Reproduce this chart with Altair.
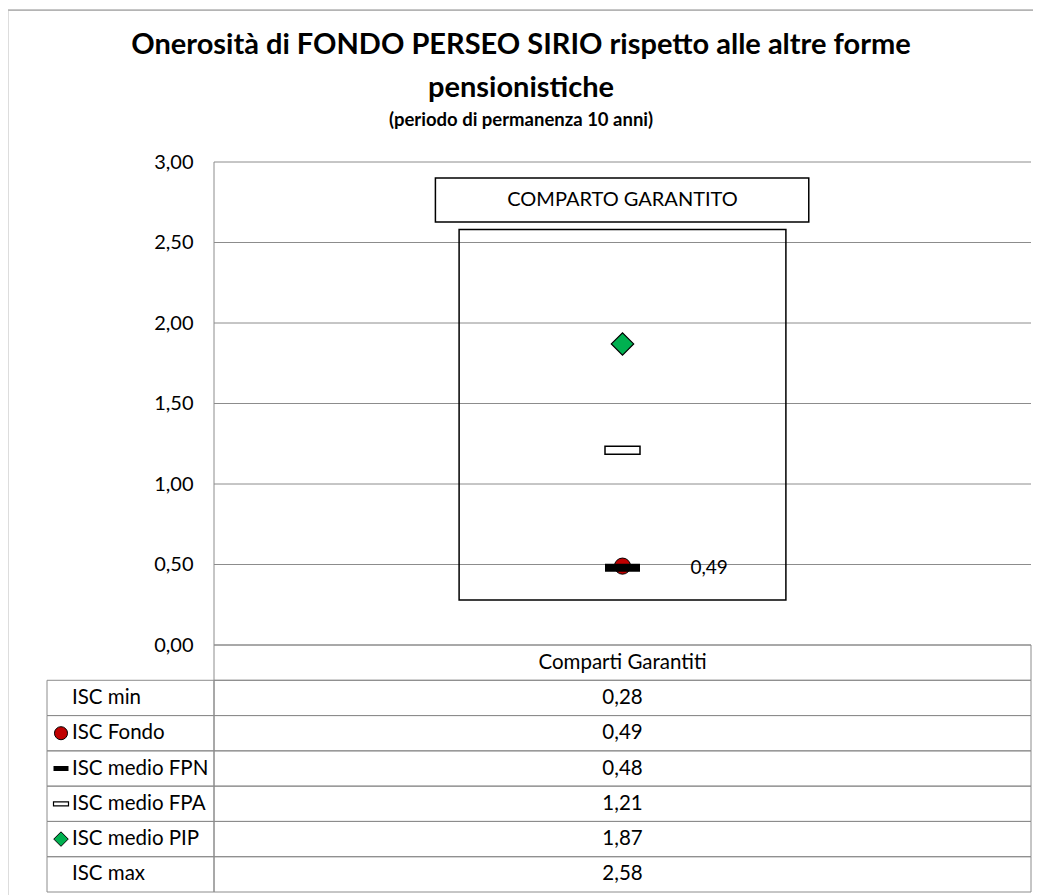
import altair as alt
import pandas as pd

TITLE_LINES = ["Onerosità di FONDO PERSEO SIRIO rispetto alle altre forme", "pensionistiche"]
SUBTITLE = "(periodo di permanenza 10 anni)"
BOX_LABEL = "COMPARTO GARANTITO"
HEADER = "Comparti Garantiti"
ROW_LABELS = ["ISC min", "ISC Fondo", "ISC medio FPN", "ISC medio FPA", "ISC medio PIP", "ISC max"]
ISC_VALUES = [0.28, 0.49, 0.48, 1.21, 1.87, 2.58]
Y_TICKS = [0.0, 0.5, 1.0, 1.5, 2.0, 2.5, 3.0]

FONT = "Lato"
GRID = "#8c8c8c"
RED = "#C00000"
GREEN = "#00B050"
BASE = 20.5


def fmt(v):
    return f"{v:.2f}".replace(".", ",")


X0 = -167 / 817  # left edge of the table's label column, in plot-width units
xs = alt.Scale(domain=[X0, 1], range=[39, 1023])
ys = alt.Scale(domain=[0, 3], range=[635, 152])
ts = alt.Scale(domain=["hdr"] + ROW_LABELS, range=[635, 882], paddingInner=0, paddingOuter=0)

val = dict(zip(ROW_LABELS, ISC_VALUES))

# outer frame (left and top edges only are visible)
frame_df = pd.DataFrame({"k": [0]})
frame_left = alt.Chart(frame_df).mark_rule(color=GRID, strokeWidth=1).encode(
    x=alt.value(-0.5), y=alt.value(0), y2=alt.value(900)
)
frame_top = alt.Chart(frame_df).mark_rule(color=GRID, strokeWidth=1).encode(
    x=alt.value(-0.5), x2=alt.value(1100), y=alt.value(0)
)

# gridlines + axis
grid_df = pd.DataFrame({"v": Y_TICKS, "xa": 0.0, "xb": 1.0})
grid = alt.Chart(grid_df).mark_rule(color=GRID, strokeWidth=1).encode(
    x=alt.X("xa:Q", scale=xs, axis=None),
    x2="xb",
    y=alt.Y(
        "v:Q",
        scale=ys,
        axis=alt.Axis(
            values=Y_TICKS,
            offset=-206,
            grid=False,
            domain=False,
            ticks=False,
            labelExpr="replace(format(datum.value, '.2f'), '.', ',')",
            labelFont=FONT,
            labelFontSize=20,
            labelColor="black",
            labelPadding=21,
            title=None,
        ),
    ),
)

vline_df = pd.DataFrame({"x": [0.0], "a": [Y_TICKS[0]], "b": [Y_TICKS[-1]]})
vline = alt.Chart(vline_df).mark_rule(color=GRID, strokeWidth=1).encode(
    x=alt.X("x:Q", scale=xs, axis=None),
    y=alt.Y("a:Q", scale=ys, axis=None),
    y2="b",
)

# min-max box
box_df = pd.DataFrame({"xa": [0.3], "xb": [0.7], "lo": [val["ISC min"]], "hi": [val["ISC max"]]})
box = alt.Chart(box_df).mark_rect(fillOpacity=0, stroke="black", strokeWidth=1.5).encode(
    x=alt.X("xa:Q", scale=xs, axis=None),
    x2="xb",
    y=alt.Y("lo:Q", scale=ys, axis=None),
    y2="hi",
)

# label box
lab_df = pd.DataFrame({"xa": [0.271], "xb": [0.728], "lo": [2.627], "hi": [2.90], "xm": [0.5], "ym": [2.7635], "t": [BOX_LABEL]})
lab_box = alt.Chart(lab_df).mark_rect(fill="white", stroke="black", strokeWidth=1.5).encode(
    x=alt.X("xa:Q", scale=xs, axis=None),
    x2="xb",
    y=alt.Y("lo:Q", scale=ys, axis=None),
    y2="hi",
)
lab_txt = alt.Chart(lab_df).mark_text(font=FONT, fontSize=20, color="black", align="center", baseline="middle").encode(
    x=alt.X("xm:Q", scale=xs, axis=None),
    y=alt.Y("ym:Q", scale=ys, axis=None),
    text="t:N",
)

# markers in plot
def pt_df(key):
    return pd.DataFrame({"x": [0.5], "v": [val[key]], "t": [fmt(val[key])]})

pip = alt.Chart(pt_df("ISC medio PIP")).mark_point(
    shape="diamond", size=500, filled=True, fill=GREEN, stroke="black", strokeWidth=1.2, opacity=1
).encode(x=alt.X("x:Q", scale=xs, axis=None), y=alt.Y("v:Q", scale=ys, axis=None))

fpa = alt.Chart(pt_df("ISC medio FPA")).mark_tick(
    orient="horizontal", size=35, thickness=8, color="white", stroke="black", strokeWidth=1.5, opacity=1
).encode(x=alt.X("x:Q", scale=xs, axis=None), y=alt.Y("v:Q", scale=ys, axis=None))

fondo = alt.Chart(pt_df("ISC Fondo")).mark_point(
    shape="circle", size=260, filled=True, fill=RED, stroke="black", strokeWidth=1, opacity=1
).encode(x=alt.X("x:Q", scale=xs, axis=None), y=alt.Y("v:Q", scale=ys, axis=None))

fpn = alt.Chart(pt_df("ISC medio FPN")).mark_tick(
    orient="horizontal", size=35, thickness=8, color="black", opacity=1
).encode(x=alt.X("x:Q", scale=xs, axis=None), y=alt.Y("v:Q", scale=ys, axis=None))

fondo_lbl = alt.Chart(pt_df("ISC Fondo")).mark_text(
    font=FONT, fontSize=19, color="black", align="left", baseline="middle", dx=68, dy=2
).encode(x=alt.X("x:Q", scale=xs, axis=None), y=alt.Y("v:Q", scale=ys, axis=None), text="t:N")

# table
cells = [{"row": "hdr", "xa": 0.0, "xb": 1.0}]
for r in ROW_LABELS:
    cells.append({"row": r, "xa": X0, "xb": 0.0})
    cells.append({"row": r, "xa": 0.0, "xb": 1.0})
cell_df = pd.DataFrame(cells)
table_cells = alt.Chart(cell_df).mark_rect(fillOpacity=0, stroke=GRID, strokeWidth=1).encode(
    x=alt.X("xa:Q", scale=xs, axis=None),
    x2="xb",
    y=alt.Y("row:N", scale=ts, axis=None),
)

vals_df = pd.DataFrame({
    "row": ["hdr"] + ROW_LABELS,
    "t": [HEADER] + [fmt(v) for v in ISC_VALUES],
    "x": 0.5,
})
table_vals = alt.Chart(vals_df).mark_text(font=FONT, fontSize=BASE, color="black", align="center", baseline="middle").encode(
    x=alt.X("x:Q", scale=xs, axis=None),
    y=alt.Y("row:N", scale=ts, axis=None),
    text="t:N",
)

lbl_df = pd.DataFrame({"row": ROW_LABELS, "x": X0})
table_lbls = alt.Chart(lbl_df).mark_text(font=FONT, fontSize=BASE, color="black", align="left", baseline="middle", dx=25).encode(
    x=alt.X("x:Q", scale=xs, axis=None),
    y=alt.Y("row:N", scale=ts, axis=None),
    text="row:N",
)

def sym_df(key):
    return pd.DataFrame({"row": [key], "x": [X0]})

sym_fondo = alt.Chart(sym_df("ISC Fondo")).mark_point(
    shape="circle", size=170, filled=True, fill=RED, stroke="black", strokeWidth=1, opacity=1
).encode(x=alt.X("x:Q", scale=xs, axis=None), xOffset=alt.value(14), y=alt.Y("row:N", scale=ts, axis=None))
sym_fpn = alt.Chart(sym_df("ISC medio FPN")).mark_tick(
    orient="horizontal", size=15, thickness=5, color="black", opacity=1
).encode(x=alt.X("x:Q", scale=xs, axis=None), xOffset=alt.value(14), y=alt.Y("row:N", scale=ts, axis=None))
sym_fpa = alt.Chart(sym_df("ISC medio FPA")).mark_tick(
    orient="horizontal", size=15, thickness=4, color="white", stroke="black", strokeWidth=1.2, opacity=1
).encode(x=alt.X("x:Q", scale=xs, axis=None), xOffset=alt.value(14), y=alt.Y("row:N", scale=ts, axis=None))
sym_pip = alt.Chart(sym_df("ISC medio PIP")).mark_point(
    shape="diamond", size=210, filled=True, fill=GREEN, stroke="black", strokeWidth=1, opacity=1
).encode(x=alt.X("x:Q", scale=xs, axis=None), xOffset=alt.value(14), y=alt.Y("row:N", scale=ts, axis=None))

# titles
t1 = alt.Chart(pd.DataFrame({"t": [TITLE_LINES[0]]})).mark_text(
    font=FONT, fontSize=29, fontWeight="bold", color="black", align="center", baseline="middle"
).encode(x=alt.value(513), y=alt.value(35), text="t:N")
t2 = alt.Chart(pd.DataFrame({"t": [TITLE_LINES[1]]})).mark_text(
    font=FONT, fontSize=29, fontWeight="bold", color="black", align="center", baseline="middle"
).encode(x=alt.value(513), y=alt.value(78), text="t:N")
t3 = alt.Chart(pd.DataFrame({"t": [SUBTITLE]})).mark_text(
    font=FONT, fontSize=18.5, fontWeight="bold", color="black", align="center", baseline="middle"
).encode(x=alt.value(513), y=alt.value(110), text="t:N")

chart = alt.layer(
    frame_left, frame_top,
    grid, vline, box, lab_box, lab_txt, pip, fpa, fondo, fpn, fondo_lbl,
    table_cells, table_vals, table_lbls, sym_fondo, sym_fpn, sym_fpa, sym_pip,
    t1, t2, t3,
).resolve_scale(y="independent").properties(
    width=1025,
    height=885,
    autosize="none",
    padding={"left": 0, "top": 2, "right": 0, "bottom": 0},
).configure_view(strokeWidth=0).configure(background="white")

chart.save("out.html", embed_options={"renderer": "svg", "actions": False})
